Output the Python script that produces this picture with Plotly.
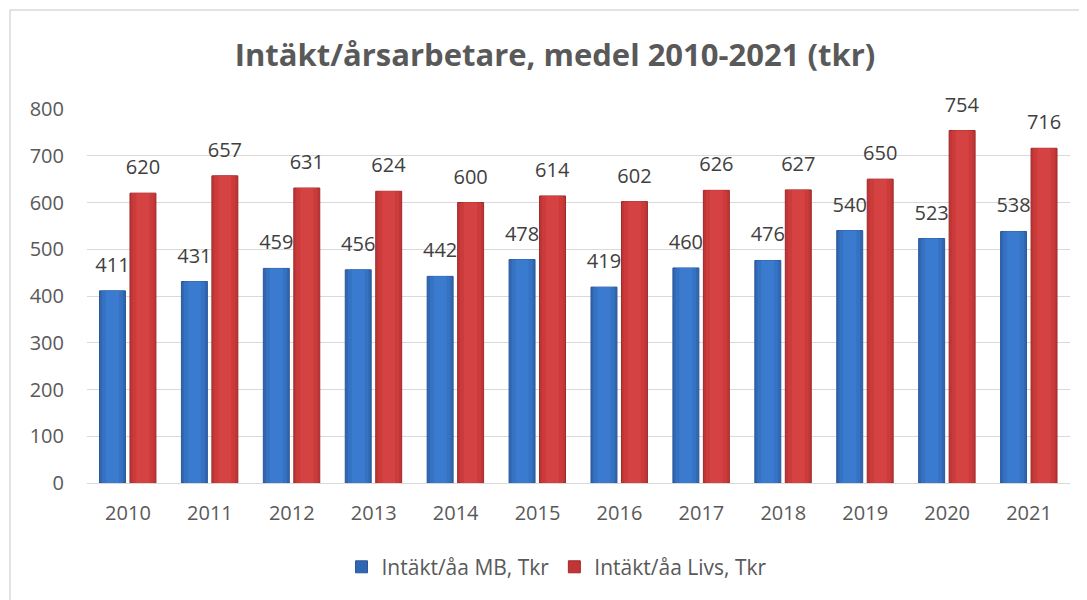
import plotly.graph_objects as go


# DATA ##########################################################################################

years = ['2010', '2011', '2012', '2013', '2014', '2015',
         '2016', '2017', '2018', '2019', '2020', '2021']
mb_values = [411, 431, 459, 456, 442, 478, 419, 460, 476, 540, 523, 538]
livs_values = [620, 657, 631, 624, 600, 614, 602, 626, 627, 650, 754, 716]

names = ['Intäkt/åa MB, Tkr', 'Intäkt/åa Livs, Tkr']
title_text = 'Intäkt/årsarbetare, medel 2010-2021 (tkr)'


# DEFINITIONS ###################################################################################

FONT = 'Open Sans'

# the page adds an 8px body margin, so the figure is laid out 8px up/left of the target
OFF = 8

BAR_W = 0.317            # bar width, in category units
BLUE_C = -0.189          # bar centre offset from category centre
RED_C = 0.183


def make_bar(values, name, color, edge, centre):
    bar = go.Bar(name=name,
                 x=years,
                 y=values,
                 width=BAR_W,
                 offset=centre - BAR_W / 2,
                 marker=dict(color=color, line=dict(color=edge, width=1)),
                 text=values,
                 texttemplate='<span style="font-size:20px">%{text}</span><br> ',
                 textposition='outside',
                 constraintext='none',
                 textfont=dict(family=FONT, size=10, color='#404040'),
                 cliponaxis=False)
    return bar


def make_shine(values, color, centre, frac):
    # lighter middle stripes, gives the bars a bit of the rounded look
    w = BAR_W * frac
    bar = go.Bar(x=years,
                 y=values,
                 width=w,
                 offset=centre - w / 2,
                 marker=dict(color=color, line=dict(width=0)),
                 showlegend=False,
                 hoverinfo='skip')
    return bar


def main():
    bars = [make_bar(mb_values, names[0], '#3066B2', '#2A5796', BLUE_C),
            make_bar(livs_values, names[1], '#C13535', '#9C2A2A', RED_C),
            make_shine(mb_values, '#3672C2', BLUE_C, 0.8),
            make_shine(livs_values, '#CB3B3B', RED_C, 0.8),
            make_shine(mb_values, '#3B7BCF', BLUE_C, 0.5),
            make_shine(livs_values, '#D54242', RED_C, 0.5)]

    fig = go.Figure(data=bars)

    fig.update_layout(width=1087,
                      height=600,
                      margin=dict(l=87 - OFF, r=17 + OFF, t=109 - OFF, b=117 + OFF),
                      paper_bgcolor='white',
                      plot_bgcolor='white',
                      barmode='overlay',
                      font=dict(family=FONT, size=20, color='#595959'),
                      title=dict(text='<b>' + title_text + '</b>',
                                 x=(555 - OFF) / 1087, xanchor='center',
                                 y=1 - (55 - OFF) / 600, yanchor='middle',
                                 font=dict(family=FONT, size=31, color='#595959')),
                      legend=dict(orientation='h',
                                  x=(557 - 87) / 983, xanchor='center',
                                  y=-0.225, yanchor='middle',
                                  itemwidth=30,
                                  font=dict(family=FONT, size=21, color='#595959')))

    fig.update_yaxes(range=[0, 800],
                     dtick=100,
                     showgrid=True,
                     gridcolor='#D9D9D9',
                     gridwidth=1,
                     zeroline=False,
                     showline=False,
                     ticks='',
                     ticklabelstandoff=22)

    fig.update_xaxes(showline=True,
                     linecolor='#D9D9D9',
                     linewidth=1,
                     ticks='',
                     ticklabelstandoff=12)

    # outer chart border
    fig.add_shape(type='rect', xref='paper', yref='paper',
                  x0=(10 - 87) / 983, x1=(1095 - 87) / 983,
                  y0=(483 - 610) / 374, y1=1 + (109 - 10) / 374,
                  line=dict(color='#D9D9D9', width=1.5),
                  fillcolor='rgba(0,0,0,0)',
                  layer='below')

    fig.write_html('out.html')


main()
